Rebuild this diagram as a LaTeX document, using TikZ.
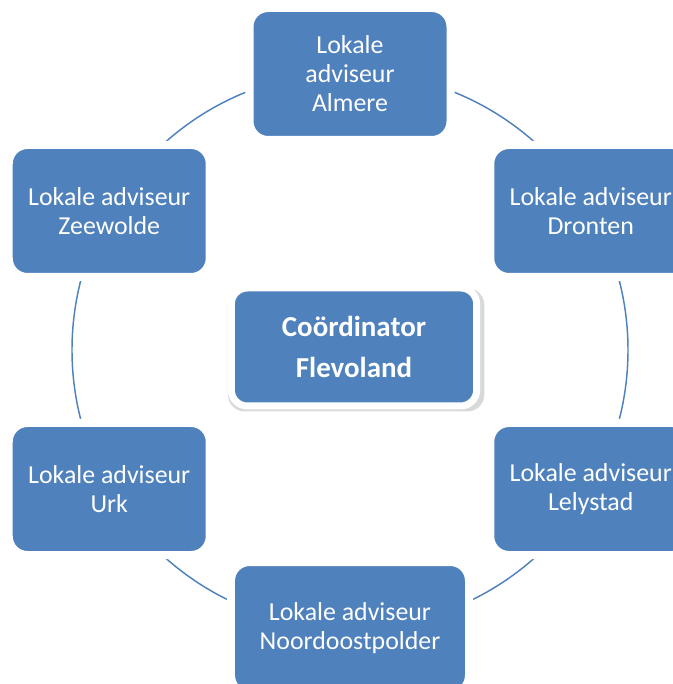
\documentclass[tikz,border=0pt]{standalone}
\usepackage{fontspec}
\setmainfont{Carlito}
\usetikzlibrary{shadows}
\definecolor{ring-blue}{HTML}{4F81BD}

\begin{document}
\begin{tikzpicture}[x=0.75pt, y=0.75pt]

    % frame
    \useasboundingbox (-350,-334) rectangle (323,350);
    \clip (-350,-334) rectangle (323,350);

    % ring
    \coordinate (mid) at (0,0);
    \draw[color=ring-blue, line width=1.1pt] (mid) circle (278);

    % advisers
    \begin{scope}[every node/.style={rectangle, rounded corners=14pt, fill=ring-blue,
                  draw=white, line width=6pt, text=white, align=center,
                  minimum width=150.75pt, minimum height=99pt,
                  font=\fontsize{19.4}{21.75}\selectfont}]
        \node (almere) at (90:276) {Lokale\\adviseur\\Almere};
        \node (dronten) at (30:278) {Lokale adviseur\\Dronten};
        \node (lelystad) at (-30:278) {Lokale adviseur\\Lelystad};
        \node[minimum width=178.5pt] (noordoostpolder) at (-90:278) {Lokale adviseur\\Noordoostpolder};
        \node (urk) at (-150:278) {Lokale adviseur\\Urk};
        \node (zeewolde) at (150:278) {Lokale adviseur\\Zeewolde};
    \end{scope}

    % coordinator
    \node[rectangle, rounded corners=12pt, fill=ring-blue, draw=white, line width=5.25pt,
          drop shadow={shadow xshift=1.5pt, shadow yshift=-2pt, shadow scale=1.045,
                       opacity=0.3},
          text=white, align=center, minimum width=184pt, minimum height=88.5pt,
          font=\bfseries\fontsize{21.7}{30.75}\selectfont] (coordinator) at (4,3) {Coördinator\\Flevoland};

\end{tikzpicture}
\end{document}
